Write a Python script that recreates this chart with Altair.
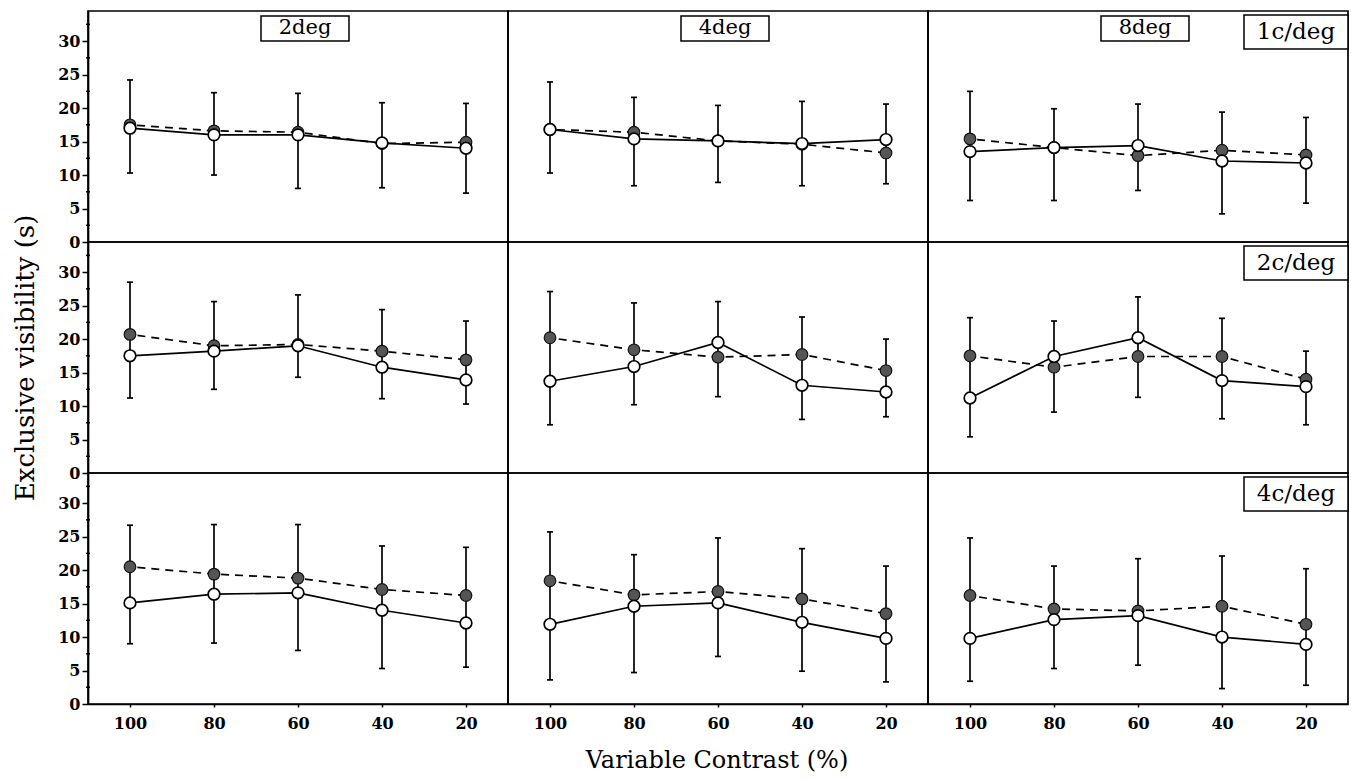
import altair as alt
import pandas as pd

contrast = [100, 80, 60, 40, 20]
sizes = ["2deg", "4deg", "8deg"]
freqs = ["1c/deg", "2c/deg", "4c/deg"]

# filled circles (dashed line), per stimulus size 2/4/8 deg
filled_1c = [[17.5, 16.6, 16.4, 14.7, 14.9],
             [16.8, 16.4, 15.1, 14.6, 13.3],
             [15.4, 14.1, 12.9, 13.7, 13.0]]
filled_2c = [[20.7, 19.0, 19.2, 18.2, 16.9],
             [20.2, 18.4, 17.3, 17.7, 15.3],
             [17.5, 15.8, 17.4, 17.4, 14.0]]
filled_4c = [[20.5, 19.4, 18.8, 17.1, 16.2],
             [18.4, 16.3, 16.8, 15.7, 13.5],
             [16.2, 14.2, 13.9, 14.6, 11.9]]

# open circles (solid line)
open_1c = [[17.0, 16.0, 16.0, 14.8, 14.0],
           [16.8, 15.4, 15.1, 14.7, 15.3],
           [13.5, 14.1, 14.4, 12.1, 11.8]]
open_2c = [[17.5, 18.2, 19.0, 15.8, 13.9],
           [13.7, 15.9, 19.5, 13.1, 12.1],
           [11.2, 17.4, 20.2, 13.8, 12.9]]
open_4c = [[15.1, 16.4, 16.6, 14.0, 12.1],
           [11.9, 14.6, 15.1, 12.2, 9.8],
           [9.8, 12.6, 13.2, 10.0, 8.9]]

# error bar upper ends
hi_1c = [[24.2, 22.3, 22.2, 20.8, 20.7],
         [23.9, 21.6, 20.4, 21.0, 20.6],
         [22.5, 19.9, 20.6, 19.4, 18.6]]
hi_2c = [[28.5, 25.6, 26.6, 24.4, 22.7],
         [27.1, 25.4, 25.6, 23.3, 20.0],
         [23.2, 22.7, 26.3, 23.1, 18.2]]
hi_4c = [[26.7, 26.8, 26.8, 23.6, 23.4],
         [25.7, 22.3, 24.8, 23.2, 20.6],
         [24.8, 20.6, 21.7, 22.1, 20.2]]

# error bar lower ends
lo_1c = [[10.3, 10.0, 8.0, 8.1, 7.3],
         [10.3, 8.4, 8.9, 8.4, 8.7],
         [6.2, 6.2, 7.7, 4.2, 5.8]]
lo_2c = [[11.2, 12.5, 14.3, 11.1, 10.3],
         [7.2, 10.2, 11.4, 8.0, 8.4],
         [5.4, 9.1, 11.3, 8.1, 7.2]]
lo_4c = [[9.0, 9.1, 8.0, 5.3, 5.5],
         [3.6, 4.7, 7.1, 4.9, 3.3],
         [3.4, 5.3, 5.8, 2.3, 2.8]]

y_ticks = [0, 5, 10, 15, 20, 25, 30]
y_minor_ticks = [2.5, 7.5, 12.5, 17.5, 22.5, 27.5, 32.5]

FILLED = {"1c/deg": filled_1c, "2c/deg": filled_2c, "4c/deg": filled_4c}
OPEN = {"1c/deg": open_1c, "2c/deg": open_2c, "4c/deg": open_4c}
HI = {"1c/deg": hi_1c, "2c/deg": hi_2c, "4c/deg": hi_4c}
LO = {"1c/deg": lo_1c, "2c/deg": lo_2c, "4c/deg": lo_4c}

records = []
for f in freqs:
    for si, s in enumerate(sizes):
        for ci, c in enumerate(contrast):
            records.append({
                "sf": f, "size": s, "contrast": c,
                "filled": FILLED[f][si][ci], "open": OPEN[f][si][ci],
                "hi": HI[f][si][ci], "lo": LO[f][si][ci],
            })
df = pd.DataFrame(records)

FONT = "DejaVu Serif"
W, H = 420, 231

xscale = alt.Scale(domain=[10, 110], reverse=True, nice=False)
yscale = alt.Scale(domain=[0, 34.5], nice=False, zero=False)
xaxis = alt.Axis(values=contrast, title=None, grid=False,
                 tickSize=3, labelPadding=8)
yaxis = alt.Axis(values=y_ticks, title=None, grid=False,
                 tickSize=6, labelPadding=2)


def X(field="contrast"):
    return alt.X(f"{field}:Q", scale=xscale, axis=xaxis)


def Y(field):
    return alt.Y(f"{field}:Q", scale=yscale, axis=yaxis)


base = alt.Chart()

err = base.mark_rule(color="black", strokeWidth=1.7).encode(
    x=X(), y=Y("lo"), y2="hi")
cap_hi = base.mark_rule(color="black", strokeWidth=1.7, xOffset=-3, x2Offset=3).encode(
    x=X(), x2="contrast:Q", y=Y("hi"))
cap_lo = base.mark_rule(color="black", strokeWidth=1.7, xOffset=-3, x2Offset=3).encode(
    x=X(), x2="contrast:Q", y=Y("lo"))

line_filled = base.mark_line(color="black", strokeWidth=1.7, strokeDash=[8, 6]).encode(
    x=X(), y=Y("filled"), order="contrast:Q")
line_open = base.mark_line(color="black", strokeWidth=1.7).encode(
    x=X(), y=Y("open"), order="contrast:Q")

pts_filled = base.mark_circle(size=135, fill="#555555", stroke="#111111",
                              strokeWidth=1.2, opacity=1).encode(
    x=X(), y=Y("filled"))
pts_open = base.mark_circle(size=135, fill="white", stroke="black",
                            strokeWidth=1.7, opacity=1).encode(
    x=X(), y=Y("open"))

minor = base.mark_rule(color="black", strokeWidth=1.5).encode(
    x=alt.value(-2), x2=alt.value(2), y=Y("minor")
).transform_filter(
    "datum.size == '2deg' && datum.contrast == 100"
).transform_calculate(
    minor=str(y_minor_ticks)
).transform_flatten(["minor"])

col_box = base.mark_rect(fill="white", stroke="black", strokeWidth=1.5).encode(
    x=alt.value(173), x2=alt.value(261), y=alt.value(5), y2=alt.value(30)
).transform_filter("datum.sf == '1c/deg' && datum.contrast == 100")
col_text = base.mark_text(font=FONT, fontSize=21, color="black",
                          align="center", baseline="middle").encode(
    x=alt.value(217), y=alt.value(17), text="size:N"
).transform_filter("datum.sf == '1c/deg' && datum.contrast == 100")

row_box = base.mark_rect(fill="white", stroke="black", strokeWidth=1.5).encode(
    x=alt.value(316), x2=alt.value(420), y=alt.value(4), y2=alt.value(38)
).transform_filter("datum.size == '8deg' && datum.contrast == 100")
row_text = base.mark_text(font=FONT, fontSize=23, color="black",
                          align="center", baseline="middle").encode(
    x=alt.value(368), y=alt.value(21), text="sf:N"
).transform_filter("datum.size == '8deg' && datum.contrast == 100")

layered = alt.layer(
    minor, err, cap_hi, cap_lo, line_filled, line_open, pts_filled, pts_open,
    col_box, col_text, row_box, row_text
).properties(width=W, height=H)

chart = layered.facet(
    data=df,
    row=alt.Row("sf:N", sort=freqs, title="Exclusive visibility (s)",
                header=alt.Header(labels=False, labelPadding=0,
                                  titleFont=FONT, titleFontSize=26,
                                  titleFontWeight="normal", titleColor="black",
                                  titleOrient="left", titlePadding=8)),
    column=alt.Column("size:N", sort=sizes, title="Variable Contrast (%)",
                      header=alt.Header(labels=False, labelPadding=0,
                                        titleFont=FONT, titleFontSize=24,
                                        titleFontWeight="normal", titleColor="black",
                                        titleOrient="bottom", titlePadding=8)),
    spacing=0,
    bounds="flush",
).properties(
    padding={"left": 12, "top": 10, "right": 0, "bottom": 0},
    background="white",
).configure_view(
    stroke="black", strokeWidth=1.7
).configure_axis(
    labelFont=FONT, labelFontSize=16, labelFontWeight="bold", labelColor="black",
    domainColor="black", domainWidth=1.7, tickColor="black", tickWidth=1.5,
)

chart.save("out.html", embed_options={"renderer": "svg", "actions": False})
